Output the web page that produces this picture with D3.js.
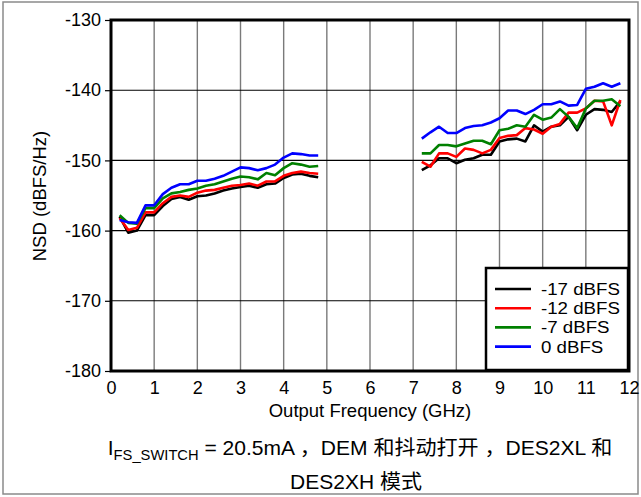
<!DOCTYPE html>
<html>
<head>
<meta charset="utf-8">
<script src="https://cdnjs.cloudflare.com/ajax/libs/d3/7.8.5/d3.min.js"></script>
<style>
  body { margin: 0; background: #fff; }
  svg { display: block; font-family: "Liberation Sans", Arial, "Noto Sans CJK SC", sans-serif; }
</style>
</head>
<body>
<svg width="641" height="497"></svg>
<script>
// frequencies (GHz) of the two measured bands
var freqLow = [0.2, 0.4, 0.6, 0.8, 1.0, 1.2, 1.4, 1.6, 1.8, 2.0, 2.2, 2.4,
               2.6, 2.8, 3.0, 3.2, 3.4, 3.6, 3.8, 4.0, 4.2, 4.4, 4.6, 4.8];
var freqHigh = [7.2, 7.4, 7.6, 7.8, 8.0, 8.2, 8.4, 8.6, 8.8, 9.0, 9.2, 9.4,
                9.6, 9.8, 10.0, 10.2, 10.4, 10.6, 10.8, 11.0, 11.2, 11.4, 11.6, 11.8];

var seriesNames = ["-17 dBFS", "-12 dBFS", "-7 dBFS", "0 dBFS"];
var seriesColors = ["#000000", "#ff0000", "#008000", "#0000ff"];

// NSD (dBFS/Hz), low band
var nsdLow17 = [-158.0, -160.3, -160.0, -157.8, -157.8, -156.5, -155.5, -155.2, -155.6, -155.1, -155.0, -154.7,
                -154.3, -154.0, -153.8, -153.6, -153.9, -153.4, -153.3, -152.5, -152.0, -151.9, -152.2, -152.4];
var nsdLow12 = [-158.2, -159.9, -159.6, -157.4, -157.4, -156.1, -155.2, -155.0, -155.2, -154.6, -154.3, -154.2,
                -153.9, -153.6, -153.5, -153.3, -153.6, -153.0, -153.0, -152.2, -151.8, -151.6, -151.8, -151.9];
var nsdLow7 = [-157.8, -158.9, -159.0, -156.8, -156.8, -155.4, -154.7, -154.5, -154.2, -154.0, -153.6, -153.4,
               -153.0, -152.6, -152.3, -152.4, -152.7, -151.8, -152.1, -151.1, -150.4, -150.6, -150.9, -150.8];
var nsdLow0 = [-158.5, -158.8, -158.9, -156.4, -156.4, -154.8, -153.9, -153.4, -153.4, -152.9, -152.9, -152.6,
               -152.2, -151.6, -151.0, -151.1, -151.4, -151.1, -150.6, -149.6, -149.0, -149.1, -149.3, -149.3];

// NSD (dBFS/Hz), high band
var nsdHigh17 = [-151.4, -150.7, -149.7, -149.7, -150.4, -149.9, -149.7, -149.2, -149.2, -147.3, -147.0, -146.9,
                 -147.3, -145.0, -145.9, -145.2, -145.0, -143.8, -145.7, -143.5, -142.7, -142.8, -143.1, -141.6];
var nsdHigh12 = [-150.2, -150.9, -149.0, -149.0, -149.5, -148.3, -148.5, -149.0, -148.5, -146.8, -146.5, -146.4,
                 -145.4, -145.6, -146.2, -145.2, -144.8, -143.2, -143.2, -142.6, -141.5, -141.6, -145.0, -141.4];
var nsdHigh7 = [-149.0, -149.0, -147.8, -147.8, -148.0, -147.6, -147.2, -147.2, -147.7, -145.7, -145.5, -145.0,
                -145.2, -143.5, -144.2, -143.9, -142.7, -143.8, -145.4, -142.6, -141.5, -141.5, -141.3, -142.3];
var nsdHigh0 = [-146.9, -146.0, -145.2, -146.1, -146.1, -145.4, -145.1, -145.0, -144.6, -144.0, -142.9, -142.9,
                -143.4, -142.8, -142.0, -142.0, -141.6, -142.2, -142.1, -139.8, -139.5, -139.0, -139.5, -139.0];

var lowSets = [nsdLow17, nsdLow12, nsdLow7, nsdLow0];
var highSets = [nsdHigh17, nsdHigh12, nsdHigh7, nsdHigh0];

var xTicks = [0, 1, 2, 3, 4, 5, 6, 7, 8, 9, 10, 11, 12];
var yTicks = [-180, -170, -160, -150, -140, -130];

var plotL = 111, plotR = 629, plotT = 20, plotB = 371;

var xScale = d3.scaleLinear().domain([0, 12]).range([plotL, plotR]);
var yScale = d3.scaleLinear().domain([-180, -130]).range([plotB, plotT]);

var svg = d3.select("svg");

// squeeze/stretch a text horizontally around its anchor point
function stretch(sel, sx) {
  var x = +sel.attr("x"), y = +sel.attr("y");
  sel.attr("transform", `translate(${x},${y}) scale(${sx},1) translate(${-x},${-y})`);
}

// outer frame
svg.append("rect")
  .attr("x", 3).attr("y", 2)
  .attr("width", 635).attr("height", 492)
  .attr("fill", "none")
  .attr("stroke", "#8a8a8a")
  .attr("stroke-width", 1.5);

// grid
svg.append("g")
  .selectAll("line")
  .data(xTicks.slice(1, -1))
  .enter()
  .append("line")
    .attr("x1", d => xScale(d)).attr("x2", d => xScale(d))
    .attr("y1", plotT).attr("y2", plotB)
    .attr("stroke", "#7a7a7a")
    .attr("stroke-width", 1.4);

svg.append("g")
  .selectAll("line")
  .data(yTicks.slice(1, -1))
  .enter()
  .append("line")
    .attr("x1", plotL).attr("x2", plotR)
    .attr("y1", d => yScale(d)).attr("y2", d => yScale(d))
    .attr("stroke", "#000")
    .attr("stroke-width", 1.1);

// axes
var yAxis = d3.axisLeft(yScale).tickValues(yTicks).tickFormat(d => String(d))
  .tickSize(6).tickSizeOuter(0).tickPadding(4);
var xAxis = d3.axisBottom(xScale).tickValues(xTicks).tickFormat(d => String(d))
  .tickSize(0).tickPadding(10);

var gy = svg.append("g")
  .attr("transform", `translate(${plotL},0)`)
  .call(yAxis);
var gx = svg.append("g")
  .attr("transform", `translate(0,${plotB})`)
  .call(xAxis);

[gx, gy].forEach(g => {
  g.select(".domain").remove();
  g.selectAll("text")
    .attr("font-family", "\"Liberation Sans\", Arial, sans-serif")
    .attr("font-size", 18)
    .attr("fill", "#000");
  g.selectAll("line").attr("stroke", "#000").attr("stroke-width", 1.2);
});

// data lines
var line = d3.line()
  .x(d => xScale(d[0]))
  .y(d => yScale(d[1]));

seriesNames.forEach((name, i) => {
  [[freqLow, lowSets[i]], [freqHigh, highSets[i]]].forEach(seg => {
    var pts = seg[0].map((f, j) => [f, seg[1][j]]);
    svg.append("path")
      .datum(pts)
      .attr("d", line)
      .attr("fill", "none")
      .attr("stroke", seriesColors[i])
      .attr("stroke-width", 2.6)
      .attr("stroke-linejoin", "round");
  });
});

// plot frame
svg.append("rect")
  .attr("x", plotL).attr("y", plotT)
  .attr("width", plotR - plotL).attr("height", plotB - plotT)
  .attr("fill", "none")
  .attr("stroke", "#000")
  .attr("stroke-width", 3);

// legend
var legend = svg.append("g");
legend.append("rect")
  .attr("x", 486).attr("y", 268)
  .attr("width", 142).attr("height", 102)
  .attr("fill", "#fff")
  .attr("stroke", "#000")
  .attr("stroke-width", 2.5);

seriesNames.forEach((name, i) => {
  var ly = 289 + i * 19.2;
  legend.append("line")
    .attr("x1", 495).attr("x2", 531)
    .attr("y1", ly).attr("y2", ly)
    .attr("stroke", seriesColors[i])
    .attr("stroke-width", 2.6);
  var t = legend.append("text")
    .attr("x", 541).attr("y", ly + 6)
    .attr("font-size", 17)
    .text(name);
  stretch(t, 1.1);
});

// axis titles
svg.append("text")
  .attr("x", 370)
  .attr("y", 417)
  .attr("text-anchor", "middle")
  .attr("font-size", 18.5)
  .text("Output Frequency (GHz)");

svg.append("text")
  .attr("transform", "rotate(-90)")
  .attr("x", -196)
  .attr("y", 46)
  .attr("text-anchor", "middle")
  .attr("font-size", 18.5)
  .text("NSD (dBFS/Hz)");

// caption (two centred lines)
var capX = 360;
var cap1 = svg.append("text")
  .attr("x", capX)
  .attr("y", 455)
  .attr("text-anchor", "middle")
  .attr("font-size", 20);
cap1.append("tspan").text("I");
cap1.append("tspan").attr("dy", 5).attr("font-size", 14).text("FS_SWITCH");
cap1.append("tspan").attr("dy", -5).text(" = 20.5mA ，DEM 和抖动打开 ，DES2XL 和");
stretch(cap1, 505 / cap1.node().getComputedTextLength());

var cap2 = svg.append("text")
  .attr("x", 356)
  .attr("y", 489)
  .attr("text-anchor", "middle")
  .attr("font-size", 20)
  .text("DES2XH 模式");
stretch(cap2, 132 / cap2.node().getComputedTextLength());
</script>
</body>
</html>
